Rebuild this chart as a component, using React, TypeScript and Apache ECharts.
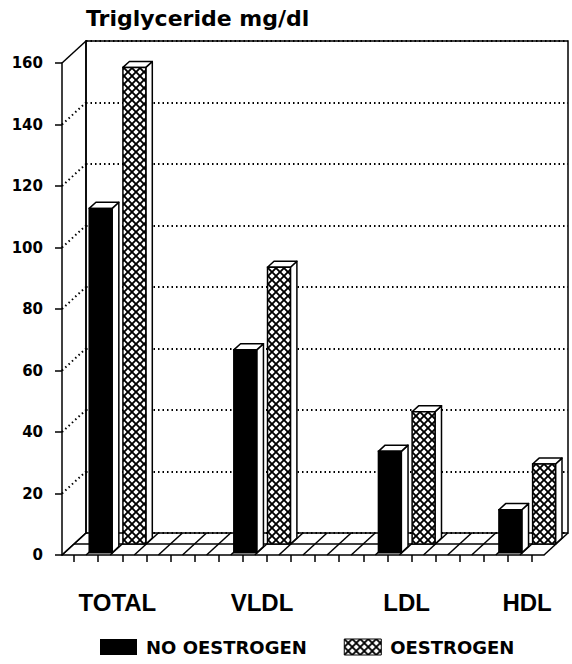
import React, { useEffect, useRef } from 'react';
import * as echarts from 'echarts';

const categories = ['TOTAL', 'VLDL', 'LDL', 'HDL'];
const categorySlot = [1, 7, 13, 18];
const noOestrogen = [112, 66, 33, 14];
const oestrogen = [155, 90, 43, 26];
const yTicks = [0, 20, 40, 60, 80, 100, 120, 140, 160];
const floorSlots = Array.from({ length: 20 }, (_, i) => String(i + 1));
const seriesNames = ['NO OESTROGEN', 'OESTROGEN'];
const titleText = 'Triglyceride mg/dl';

const DX = 24;
const DY = -22;

export default function App() {
  const ref = useRef<HTMLDivElement>(null);

  useEffect(() => {
    const chart = echarts.init(ref.current!, null, { renderer: 'svg' });

    const cv = document.createElement('canvas');
    cv.width = 8;
    cv.height = 8;
    const g = cv.getContext('2d')!;
    g.fillStyle = '#fff';
    g.fillRect(0, 0, 8, 8);
    g.strokeStyle = '#000';
    g.lineWidth = 1.9;
    g.beginPath();
    g.moveTo(-2, -2);
    g.lineTo(10, 10);
    g.moveTo(10, -2);
    g.lineTo(-2, 10);
    g.stroke();
    const hatch: any = { image: cv, repeat: 'repeat' };

    const face = (points: number[][], fill: any) => ({
      type: 'polygon',
      shape: { points },
      style: { fill, stroke: '#000', lineWidth: 1.5, lineJoin: 'round' },
    });

    const bar = (api: any, slot: number, value: number, d0: number, d1: number, fill: any) => {
      const bw = api.size([1, 0])[0];
      const base = api.coord([slot, 0]);
      const top = api.coord([slot, value]);
      const w = bw * 0.95;
      const x0 = base[0] - bw / 2 + bw * 0.03 + DX * d0;
      const x1 = x0 + w;
      const yB = base[1] + DY * d0;
      const yT = top[1] + DY * d0;
      const ex = DX * (d1 - d0);
      const ey = DY * (d1 - d0);
      return {
        type: 'group',
        children: [
          face([[x1, yT], [x1 + ex, yT + ey], [x1 + ex, yB + ey], [x1, yB]], '#fff'),
          face([[x0, yT], [x1, yT], [x1 + ex, yT + ey], [x0 + ex, yT + ey]], '#fff'),
          {
            type: 'rect',
            shape: { x: x0, y: yT, width: w, height: yB - yT },
            style: { fill, stroke: '#000', lineWidth: 1.5 },
          },
        ],
      };
    };

    const font = 'DejaVu Sans';

    const option: any = {
      animation: false,
      backgroundColor: '#fff',
      title: {
        text: titleText,
        left: 86,
        top: 7,
        padding: 0,
        textStyle: { fontFamily: font, fontWeight: 'bold', fontSize: 22, color: '#000' },
      },
      legend: {
        left: 100,
        top: 638,
        padding: 0,
        itemWidth: 37,
        itemHeight: 16,
        itemGap: 37,
        selectedMode: false,
        textStyle: { fontFamily: font, fontWeight: 'bold', fontSize: 18, color: '#000', padding: [0, 0, 0, 4] },
        data: [
          { name: seriesNames[0], icon: 'rect', itemStyle: { color: '#000', borderWidth: 0 } },
          { name: seriesNames[1], icon: 'rect', itemStyle: { color: hatch, borderColor: '#000', borderWidth: 1 } },
        ],
      },
      grid: [
        { left: 62, top: 63, width: 482, height: 492, outerBoundsMode: 'none', containLabel: false },
        {
          left: 86, top: 41, width: 482, height: 492, outerBoundsMode: 'none', containLabel: false,
          show: true, borderColor: '#000', borderWidth: 1.5, backgroundColor: 'transparent',
        },
      ],
      xAxis: [
        {
          gridIndex: 0,
          type: 'category',
          data: floorSlots,
          boundaryGap: true,
          axisLine: { show: true, lineStyle: { color: '#000', width: 1.5 } },
          axisTick: { show: true, alignWithLabel: true, interval: 0, length: 7, lineStyle: { color: '#000', width: 1.5 } },
          axisLabel: { show: false },
          splitLine: { show: false },
        },
        {
          gridIndex: 1,
          type: 'category',
          data: floorSlots,
          show: false,
        },
      ],
      yAxis: [
        {
          gridIndex: 0,
          type: 'value',
          min: 0,
          max: 160,
          interval: 20,
          axisLine: { show: true, lineStyle: { color: '#000', width: 1.5 } },
          axisTick: { show: true, length: 7, lineStyle: { color: '#000', width: 1.5 } },
          axisLabel: { margin: 19, fontFamily: font, fontWeight: 'bold', fontSize: 15, color: '#000' },
          splitLine: { show: false },
        },
        {
          gridIndex: 1,
          type: 'value',
          min: 0,
          max: 160,
          interval: 20,
          axisLine: { show: true, lineStyle: { color: '#000', width: 1.5 } },
          axisTick: { show: false },
          axisLabel: { show: false },
          splitLine: { show: true, lineStyle: { color: '#000', width: 2, type: [1.5, 3] } },
        },
      ],
      series: [
        {
          name: 'sidewall',
          type: 'custom',
          xAxisIndex: 0,
          yAxisIndex: 0,
          silent: true,
          clip: false,
          z: 1,
          data: yTicks.map((v) => [0, v]),
          renderItem: (params: any, api: any) => {
            const v = api.value(1);
            const y = api.coord([0, v])[1];
            const x = params.coordSys.x;
            const solid = v === yTicks[0] || v === yTicks[yTicks.length - 1];
            return {
              type: 'line',
              shape: { x1: x, y1: y, x2: x + DX, y2: y + DY },
              style: solid
                ? { stroke: '#000', lineWidth: 1.5 }
                : { stroke: '#000', lineWidth: 2, lineDash: [1.5, 3] },
            };
          },
        },
        {
          name: 'floor',
          type: 'custom',
          xAxisIndex: 0,
          yAxisIndex: 0,
          silent: true,
          clip: false,
          z: 1,
          data: [[0, 0]],
          renderItem: (params: any, api: any) => {
            const cs = params.coordSys;
            const bw = api.size([1, 0])[0];
            const y0 = api.coord([0, 0])[1];
            const children: any[] = [
              {
                type: 'line',
                shape: { x1: cs.x + DX / 2, y1: y0 + DY / 2, x2: cs.x + cs.width + DX / 2, y2: y0 + DY / 2 },
                style: { stroke: '#000', lineWidth: 1.5 },
              },
            ];
            for (let k = 0; k <= floorSlots.length; k++) {
              const x = cs.x + k * bw;
              children.push({
                type: 'line',
                shape: { x1: x, y1: y0, x2: x + DX, y2: y0 + DY },
                style: { stroke: '#000', lineWidth: 1.5 },
              });
            }
            return { type: 'group', children };
          },
        },
        {
          name: seriesNames[1],
          type: 'custom',
          xAxisIndex: 0,
          yAxisIndex: 0,
          silent: true,
          clip: false,
          z: 3,
          itemStyle: { color: hatch },
          data: categorySlot.map((s, i) => [s, oestrogen[i]]),
          renderItem: (params: any, api: any) => bar(api, api.value(0) + 1, api.value(1), 0.5, 0.77, hatch),
        },
        {
          name: seriesNames[0],
          type: 'custom',
          xAxisIndex: 0,
          yAxisIndex: 0,
          silent: true,
          clip: false,
          z: 4,
          itemStyle: { color: '#000' },
          data: categorySlot.map((s, i) => [s, noOestrogen[i]]),
          renderItem: (params: any, api: any) => bar(api, api.value(0), api.value(1), 0.1, 0.38, '#000'),
        },
        {
          name: 'labels',
          type: 'custom',
          xAxisIndex: 0,
          yAxisIndex: 0,
          silent: true,
          clip: false,
          z: 5,
          data: categorySlot.map((s) => [s, 0]),
          renderItem: (params: any, api: any) => {
            const bw = api.size([1, 0])[0];
            const p = api.coord([api.value(0), 0]);
            return {
              type: 'text',
              style: {
                text: categories[params.dataIndex],
                x: p[0] + bw / 2 + DX * 0.3,
                y: p[1] + 47,
                align: 'center',
                verticalAlign: 'middle',
                fill: '#000',
                font: 'bold 24px "Liberation Sans", Arial, sans-serif',
              },
            };
          },
        },
      ],
    };

    chart.setOption(option);
    return () => chart.dispose();
  }, []);

  return (
    <div
      ref={ref}
      style={{ position: 'fixed', left: 0, top: 0, width: 572, height: 664, background: '#fff' }}
    />
  );
}
